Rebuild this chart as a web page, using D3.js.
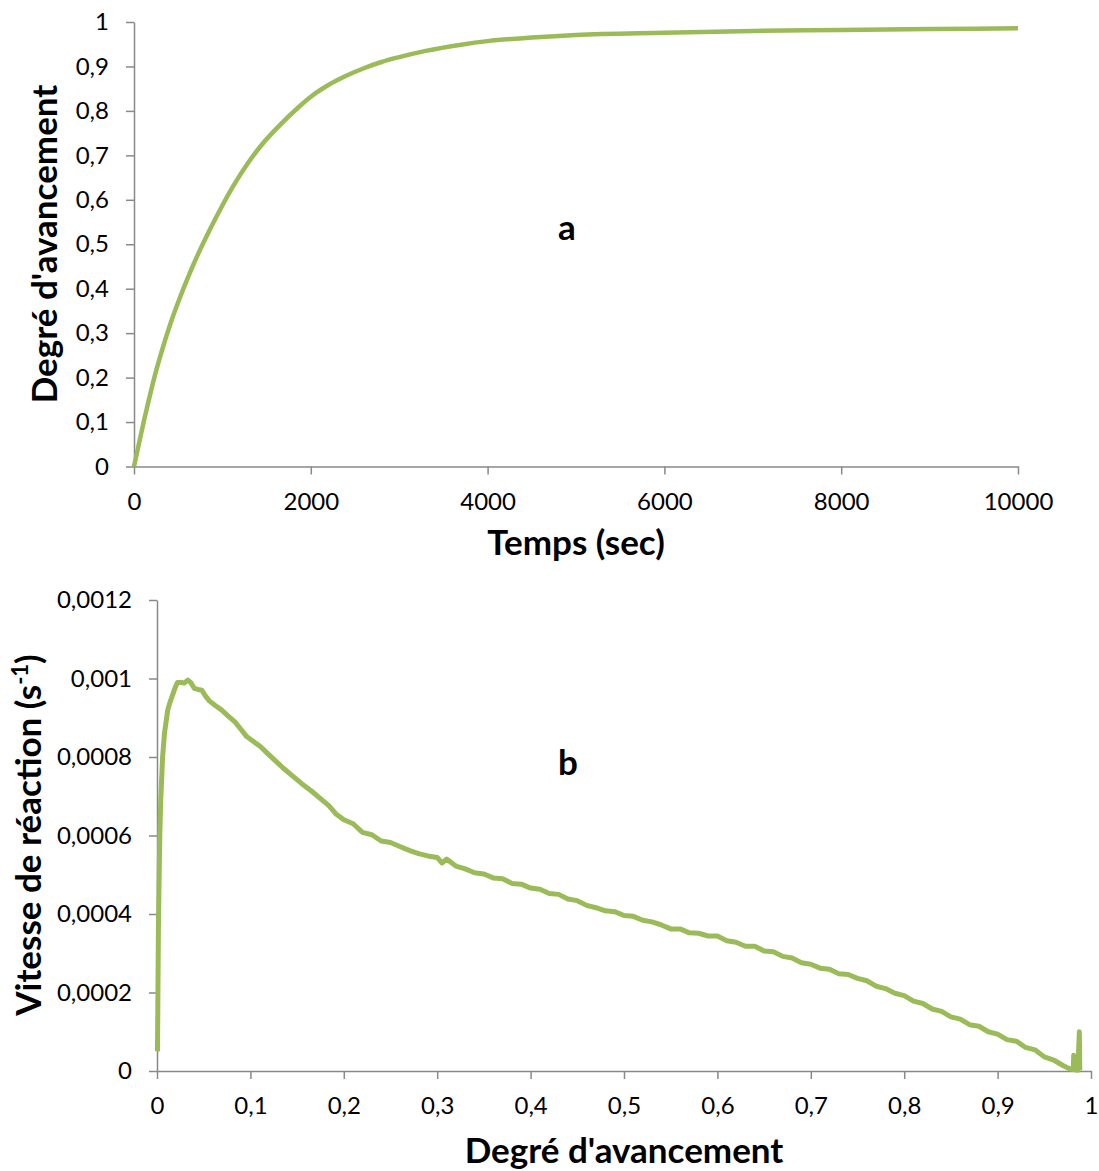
<!DOCTYPE html>
<html>
<head>
<meta charset="utf-8">
<script src="https://cdn.jsdelivr.net/npm/d3@7"></script>
<style>
  body { margin: 0; background: #fff; }
  .tick text { font-family: Lato, sans-serif; font-size: 24px; fill: #000; }
  .axis path, .axis line { stroke: #898989; stroke-width: 1.5; }
  .title { font-family: Lato, sans-serif; font-weight: bold; font-size: 35px; fill: #000; }
</style>
</head>
<body>
<div class="chart"></div>
<script>
// chart a : degree of advancement vs time
const timeSec = [0, 60, 115, 180, 250, 330, 410, 510, 620, 730, 850, 980, 1120, 1280, 1450, 1650, 1870,
  2000, 2180, 2400, 2600, 2800, 3000, 3300, 3700, 4000, 4500, 5000, 6000, 7000, 8000, 9000, 10000]
const degreeA = [0, 0.055, 0.105, 0.16, 0.215, 0.27, 0.32, 0.375, 0.43, 0.48, 0.53, 0.58, 0.63, 0.68, 0.725,
  0.768, 0.81, 0.832, 0.856, 0.879, 0.896, 0.91, 0.921, 0.935, 0.949, 0.957, 0.965, 0.971, 0.976, 0.98,
  0.982, 0.984, 0.986]

// chart b : reaction rate vs degree of advancement
const degreeB = [0.0005, 0.001, 0.0015, 0.002, 0.003, 0.004, 0.006, 0.008, 0.0115, 0.014, 0.017, 0.02, 0.022,
  0.026, 0.029, 0.033, 0.036, 0.04, 0.044, 0.048, 0.052, 0.056, 0.062, 0.069, 0.076, 0.084, 0.09, 0.096,
  0.103, 0.111, 0.118, 0.126, 0.135, 0.146, 0.155, 0.165, 0.175, 0.184, 0.192,
  0.2, 0.21, 0.22, 0.23, 0.24, 0.25, 0.26, 0.27, 0.28, 0.29, 0.3, 0.305, 0.31, 0.32, 0.33, 0.34, 0.35,
  0.36, 0.37, 0.38, 0.39, 0.4, 0.41, 0.42, 0.43, 0.44, 0.45, 0.46, 0.47, 0.48, 0.49, 0.5, 0.51, 0.52,
  0.53, 0.54, 0.55, 0.56, 0.57, 0.58, 0.59, 0.6, 0.61, 0.62, 0.63, 0.64, 0.65, 0.66, 0.67, 0.68, 0.69,
  0.7, 0.71, 0.72, 0.73, 0.74, 0.75, 0.76, 0.77, 0.78, 0.79, 0.8, 0.81, 0.82, 0.83, 0.84, 0.85, 0.86,
  0.87, 0.88, 0.89, 0.9, 0.91, 0.92, 0.93, 0.94, 0.95, 0.96, 0.97, 0.975, 0.978, 0.981, 0.9815, 0.982,
  0.986, 0.9875, 0.988]
const rateB = [0.00005, 0.0002, 0.00036, 0.00045, 0.0006, 0.00069, 0.0008, 0.00086, 0.00092, 0.00094, 0.00096,
  0.00098, 0.00099, 0.00099, 0.000988, 0.000996, 0.00099, 0.000975, 0.000972, 0.00097, 0.000955, 0.000943,
  0.000932, 0.00092, 0.000905, 0.000888, 0.00087, 0.000852, 0.00084, 0.000826, 0.00081, 0.000792, 0.000772,
  0.00075, 0.000732, 0.000714, 0.000694, 0.000676, 0.000654,
  0.00064, 0.00063, 0.000608, 0.000602, 0.000586, 0.000582, 0.000572, 0.000562, 0.000554, 0.000548,
  0.000544, 0.00053, 0.00054, 0.000522, 0.000515, 0.000505, 0.000502, 0.000492, 0.00049, 0.000478,
  0.000476, 0.000466, 0.000463, 0.000452, 0.00045, 0.000438, 0.000434, 0.000422, 0.000416, 0.000408,
  0.000406, 0.000396, 0.000394, 0.000384, 0.00038, 0.000372, 0.000362, 0.000362, 0.000352, 0.000351,
  0.000344, 0.000344, 0.000332, 0.000328, 0.000318, 0.000318, 0.000306, 0.000304, 0.000292, 0.000288,
  0.000276, 0.000272, 0.000262, 0.000259, 0.000248, 0.000246, 0.000236, 0.00023, 0.000216, 0.00021,
  0.000198, 0.000192, 0.000178, 0.000172, 0.000158, 0.000152, 0.000138, 0.000132, 0.000118, 0.000114,
  0.0001, 0.000094, 0.00008, 0.000076, 0.00006, 0.000054, 0.000036, 0.000028, 0.000014, 0.000008,
  0.000005, 0.000004, 0.00004, 0.000004, 0.000002, 0.0001, 0.000002]

const ticksTimeA = [0, 2000, 4000, 6000, 8000, 10000]
const ticksDegA = [0, 0.1, 0.2, 0.3, 0.4, 0.5, 0.6, 0.7, 0.8, 0.9, 1]
const ticksDegB = [0, 0.1, 0.2, 0.3, 0.4, 0.5, 0.6, 0.7, 0.8, 0.9, 1]
const ticksRateB = [0, 0.0002, 0.0004, 0.0006, 0.0008, 0.001, 0.0012]

const lineColor = '#9BBB59'
const fmt = d => String(+d.toFixed(4)).replace('.', ',')

const svg = d3.select('.chart')
  .append('svg')
  .attr('width', 1099)
  .attr('height', 1171)

// ---- chart a
const xA = d3.scaleLinear().domain([0, 10000]).range([134, 1018])
const yA = d3.scaleLinear().domain([0, 1]).range([466.5, 22])

svg.append('g')
  .attr('class', 'axis')
  .attr('transform', `translate(0, ${yA(0)})`)
  .call(d3.axisBottom(xA).tickValues(ticksTimeA).tickFormat(d => d).tickSize(8).tickSizeOuter(0).tickPadding(18))
svg.append('g')
  .attr('class', 'axis')
  .attr('transform', `translate(${xA(0)}, 0)`)
  .call(d3.axisLeft(yA).tickValues(ticksDegA).tickFormat(fmt).tickSize(8).tickSizeOuter(0).tickPadding(17))

svg.append('path')
  .datum(timeSec.map((t, i) => [t, degreeA[i]]))
  .attr('fill', 'none')
  .attr('stroke', lineColor)
  .attr('stroke-width', 4.5)
  .attr('stroke-linejoin', 'round')
  .attr('d', d3.line().x(d => xA(d[0])).y(d => yA(d[1])).curve(d3.curveMonotoneX))

svg.append('text')
  .attr('class', 'title')
  .attr('x', 576).attr('y', 555)
  .attr('text-anchor', 'middle')
  .text('Temps (sec)')

svg.append('text')
  .attr('class', 'title')
  .attr('transform', 'translate(57, 244) rotate(-90)')
  .attr('text-anchor', 'middle')
  .text("Degré d'avancement")

svg.append('text')
  .attr('class', 'title')
  .attr('x', 567).attr('y', 240)
  .attr('text-anchor', 'middle')
  .text('a')

// ---- chart b
const xB = d3.scaleLinear().domain([0, 1]).range([157, 1091])
const yB = d3.scaleLinear().domain([0, 0.0012]).range([1071, 600])

svg.append('g')
  .attr('class', 'axis')
  .attr('transform', `translate(0, ${yB(0)})`)
  .call(d3.axisBottom(xB).tickValues(ticksDegB).tickFormat(fmt).tickSize(8).tickSizeOuter(0).tickPadding(18))
svg.append('g')
  .attr('class', 'axis')
  .attr('transform', `translate(${xB(0)}, 0)`)
  .call(d3.axisLeft(yB).tickValues(ticksRateB).tickFormat(fmt).tickSize(8).tickSizeOuter(0).tickPadding(17))

svg.append('path')
  .datum(degreeB.map((x, i) => [x, rateB[i]]))
  .attr('fill', 'none')
  .attr('stroke', lineColor)
  .attr('stroke-width', 5)
  .attr('stroke-linejoin', 'round')
  .attr('d', d3.line().x(d => xB(d[0])).y(d => yB(d[1])))

svg.append('text')
  .attr('class', 'title')
  .attr('x', 624).attr('y', 1163)
  .attr('text-anchor', 'middle')
  .text("Degré d'avancement")

const yTitle = svg.append('text')
  .attr('class', 'title')
  .attr('transform', 'translate(41, 835) rotate(-90)')
  .attr('text-anchor', 'middle')
yTitle.append('tspan').text('Vitesse de réaction (s')
yTitle.append('tspan').attr('font-size', '22px').attr('dy', '-13').text('-1')
yTitle.append('tspan').attr('dy', '13').text(')')

svg.append('text')
  .attr('class', 'title')
  .attr('x', 568).attr('y', 775)
  .attr('text-anchor', 'middle')
  .text('b')
</script>
</body>
</html>
